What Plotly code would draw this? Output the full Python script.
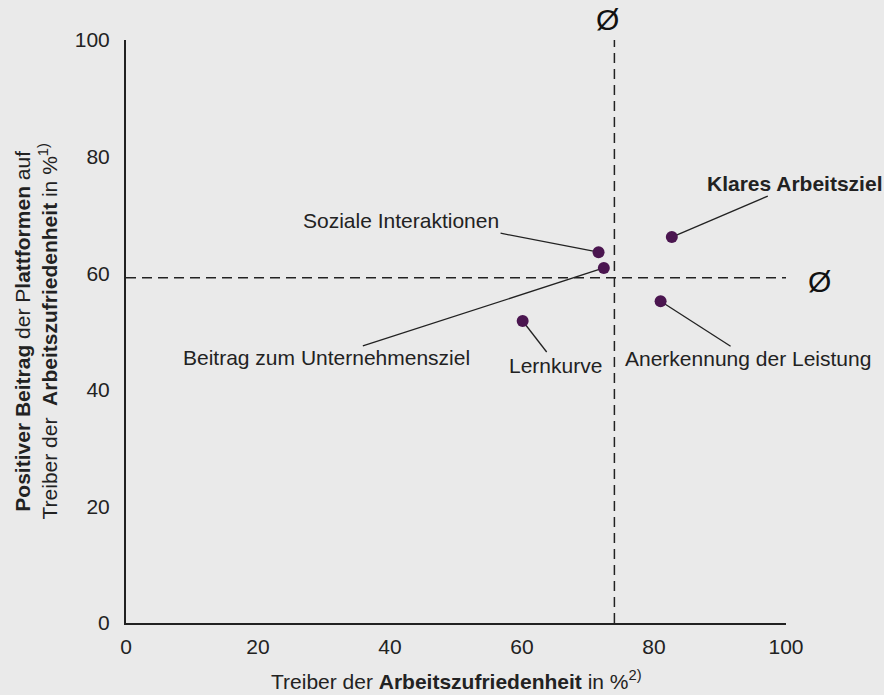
import plotly.graph_objects as go

# ---- data ----
categories = ["Klares Arbeitsziel", "Soziale Interaktionen", "Beitrag zum Unternehmensziel",
              "Lernkurve", "Anerkennung der Leistung"]
x_vals = [82.7, 71.6, 72.4, 60.1, 81.0]
y_vals = [66.2, 63.6, 60.9, 51.8, 55.2]
bold_label = [True, False, False, False, False]
avg_x = 74.0
avg_y = 59.2
tick_vals = [0, 20, 40, 60, 80, 100]
tick_text = ["0", "20", "40", "60", "80", "100"]

# label placement (pixel offsets from the point: text centre, leader-line end)
text_off = [(123, -54), (-198, -32), (-277, 90), (33, 44), (87, 57)]
line_off = [(96, -41), (-98, -19), (-241, 78), (24, 31), (70, 45)]

BG = "#eaeaea"
INK = "#222222"
DOT = "#4b1650"
FONT = "Liberation Sans, Arial, Helvetica, sans-serif"
FS = 21

fig = go.Figure()
fig.add_trace(go.Scatter(
    x=x_vals, y=y_vals, mode="markers",
    marker=dict(size=12, color=DOT, line=dict(width=0)),
    hoverinfo="text", text=categories, showlegend=False,
))

shapes = [
    dict(type="line", xref="x", yref="y", x0=avg_x, x1=avg_x, y0=0, y1=100.4,
         line=dict(color=INK, width=1.5, dash="10px,6px"), layer="below"),
    dict(type="line", xref="x", yref="y", x0=0, x1=100.2, y0=avg_y, y1=avg_y,
         line=dict(color=INK, width=1.5, dash="10px,6px"), layer="below"),
]
annotations = []
for xv, yv, name, b, (tdx, tdy), (ldx, ldy) in zip(x_vals, y_vals, categories, bold_label, text_off, line_off):
    shapes.append(dict(type="line", xref="x", yref="y", xsizemode="pixel", ysizemode="pixel",
                       xanchor=xv, yanchor=yv, x0=0, y0=0, x1=ldx, y1=-ldy,
                       line=dict(color=INK, width=1.3), layer="below"))
    annotations.append(dict(x=xv, y=yv, xref="x", yref="y", xshift=tdx, yshift=-tdy,
                            text=f"<b>{name}</b>" if b else name, showarrow=False,
                            font=dict(size=FS, color=INK, family=FONT)))

# average markers
annotations.append(dict(x=avg_x, y=100, xref="x", yref="y", xshift=-7, yshift=21,
                        text="Ø", showarrow=False, font=dict(size=30, color="#111", family=FONT)))
annotations.append(dict(x=100, y=avg_y, xref="x", yref="y", xshift=33, yshift=-4,
                        text="Ø", showarrow=False, font=dict(size=30, color="#111", family=FONT)))

# axis titles
annotations.append(dict(xref="paper", yref="paper", x=0.5, y=0, yshift=-72,
                        text="Treiber der <b>Arbeitszufriedenheit</b> in %<sup>2)</sup>",
                        showarrow=False, font=dict(size=FS, color=INK, family=FONT)))
annotations.append(dict(xref="paper", yref="paper", x=0, y=0.5, xshift=-118,
                        text="<b>Positiver Beitrag</b> der P<b>lattformen</b> auf<br>"
                             "Treiber der  <b>Arbeitszufriedenheit</b> in %<sup>1)</sup>",
                        textangle=-90, showarrow=False,
                        font=dict(size=FS, color=INK, family=FONT)))

fig.update_layout(
    width=884, height=695,
    margin=dict(l=126, r=98, t=40, b=72),
    paper_bgcolor=BG, plot_bgcolor=BG,
    font=dict(family=FONT, color=INK, size=FS),
    shapes=shapes, annotations=annotations,
    xaxis=dict(range=[0, 100], tickvals=tick_vals, ticktext=tick_text, showgrid=False,
               zeroline=False, showline=True, linecolor=INK, linewidth=2, ticks="",
               tickfont=dict(size=FS, color=INK), ticklabelstandoff=4),
    yaxis=dict(range=[0, 100], tickvals=tick_vals, ticktext=tick_text, showgrid=False,
               zeroline=False, showline=True, linecolor=INK, linewidth=2, ticks="",
               tickfont=dict(size=FS, color=INK), ticklabelstandoff=10),
)

fig.write_html("out.html", config={"displayModeBar": False},
               post_script="document.body.style.margin='0';")
